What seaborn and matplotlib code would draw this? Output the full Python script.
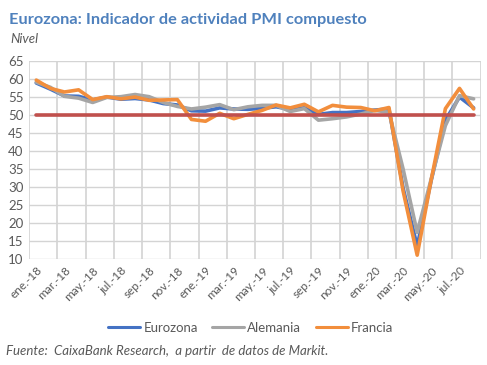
import matplotlib
matplotlib.use("Agg")
import matplotlib.pyplot as plt
import seaborn as sns
import pandas as pd
import numpy as np

meses = ["ene.-18", "feb.-18", "mar.-18", "abr.-18", "may.-18", "jun.-18", "jul.-18", "ago.-18",
         "sep.-18", "oct.-18", "nov.-18", "dic.-18", "ene.-19", "feb.-19", "mar.-19", "abr.-19",
         "may.-19", "jun.-19", "jul.-19", "ago.-19", "sep.-19", "oct.-19", "nov.-19", "dic.-19",
         "ene.-20", "feb.-20", "mar.-20", "abr.-20", "may.-20", "jun.-20", "jul.-20", "ago.-20"]

eurozona = [58.8, 57.1, 55.2, 55.1, 54.1, 54.9, 54.3, 54.5, 54.1, 53.1, 52.7, 51.1,
            51.0, 51.9, 51.6, 51.5, 51.8, 52.2, 51.5, 51.9, 50.1, 50.6, 50.6, 50.9,
            51.3, 51.6, 29.7, 13.6, 31.9, 48.5, 54.9, 51.9]
alemania = [59.0, 57.6, 55.1, 54.6, 53.4, 54.8, 55.0, 55.6, 55.0, 53.4, 52.3, 51.6,
            52.1, 52.8, 51.4, 52.2, 52.6, 52.6, 50.9, 51.7, 48.5, 48.9, 49.4, 50.2,
            51.2, 50.7, 35.0, 17.4, 32.3, 47.0, 55.3, 54.4]
francia = [59.6, 57.3, 56.3, 56.9, 54.2, 55.0, 54.4, 54.9, 54.0, 54.1, 54.2, 48.7,
           48.2, 50.4, 48.9, 50.1, 51.2, 52.7, 51.9, 52.9, 50.8, 52.6, 52.1, 52.0,
           51.1, 52.0, 28.9, 11.1, 32.1, 51.7, 57.3, 51.6]
umbral = 50

series = {"Eurozona": eurozona, "Alemania": alemania, "Francia": francia}
colores = {"Eurozona": "#4472C4", "Alemania": "#A5A5A5", "Francia": "#F28E3C"}

df = pd.concat([pd.DataFrame({"idx": np.arange(len(meses)), "mes": meses, "valor": v, "serie": k})
                for k, v in series.items()], ignore_index=True)

sns.set_theme(style="white")
plt.rcParams["font.family"] = ["Lato", "DejaVu Sans"]

fig = plt.figure(figsize=(4.87, 3.65), dpi=100)
ax = fig.add_axes([0.060, 0.290, 0.927, 0.544])

n = len(meses)
ymin, ymax = 10, 65

sns.lineplot(data=df, x="idx", y="valor", hue="serie", palette=colores,
             hue_order=list(series.keys()), linewidth=2.6, ax=ax, legend=True)
ax.plot([0, n - 1], [umbral, umbral], color="#C0504D", linewidth=2.6, zorder=5)

# vertical gridlines at category boundaries every two months
for xb in np.arange(-0.5, n, 2):
    ax.axvline(xb, color="#CFCFCF", linewidth=1.1, zorder=0.5, snap=True)

ax.set_xlim(-0.5, n - 0.5)
ax.set_ylim(ymin, ymax)
ax.set_yticks(np.arange(ymin, ymax + 1, 5))
ax.set_xticks(np.arange(0, n, 2))
ax.set_xticklabels(meses[::2], rotation=45, ha="right", rotation_mode="anchor",
                   fontsize=8.5, color="#595959")
ax.tick_params(axis="x", which="both", length=0, pad=4)
ax.tick_params(axis="y", length=0, pad=4, labelsize=9.5, labelcolor="#595959")
ax.grid(False)
ax.yaxis.grid(True, which="major", color="#D4D4D4", linewidth=1.0)
ax.set_axisbelow(True)
for s in ax.spines.values():
    s.set_visible(False)
ax.set_xlabel("")
ax.set_ylabel("")

handles, labels = ax.get_legend_handles_labels()
leg = ax.legend(handles, labels, loc="center", bbox_to_anchor=(0.515, 1 - 328 / 365), bbox_transform=fig.transFigure,
                ncol=3, frameon=False, fontsize=9.5, handlelength=2.4, columnspacing=1.1, handletextpad=0.25,
                labelcolor="#595959")
for h in leg.get_lines():
    h.set_linewidth(2.2)

fig.text(9 / 487, 1 - 20 / 365, "Eurozona: Indicador de actividad PMI compuesto", fontsize=11.8,
         fontweight="bold", color="#4F81BD", va="center", ha="left")
fig.text(10 / 487, 1 - 39 / 365, "Nivel", fontsize=9.5, style="italic", color="#595959", va="center", ha="left")
fig.text(6 / 487, 1 - 351 / 365, "Fuente:  CaixaBank Research,  a partir  de datos de Markit.", fontsize=9.5,
         style="italic", color="#595959", va="center", ha="left")

fig.savefig("out.png", dpi=100)
